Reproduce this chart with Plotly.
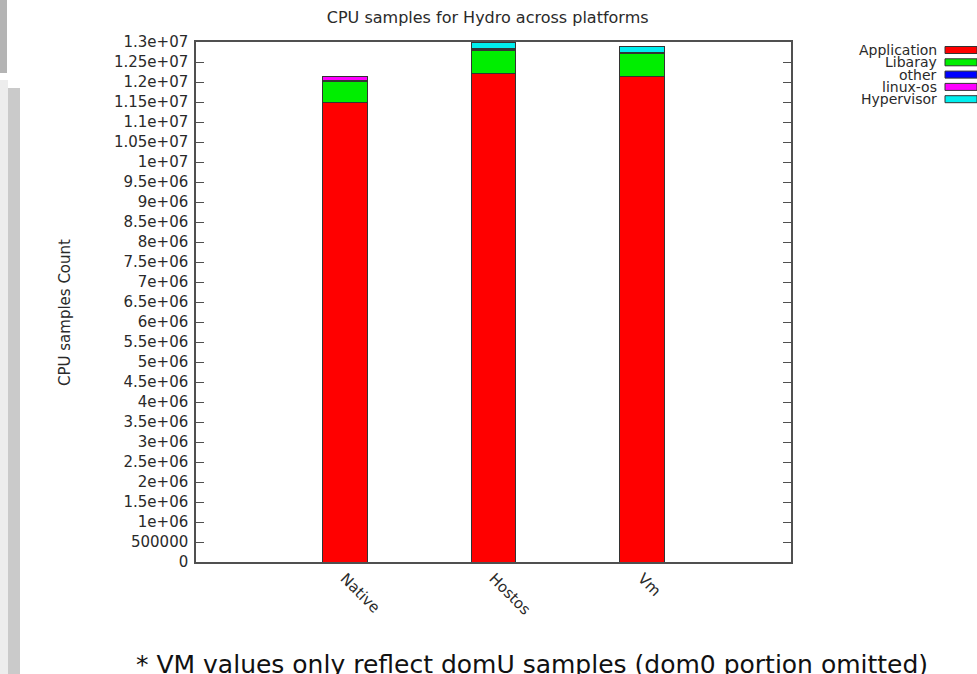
import plotly.graph_objects as go

platforms = ["Native", "Hostos", "Vm"]
series_names = ["Application", "Libaray", "other", "linux-os", "Hypervisor"]
series_colors = ["#ff0000", "#00ee00", "#0000ff", "#ff00ff", "#00eeee"]
application = [11.50e6, 12.22e6, 12.13e6]
library = [0.52e6, 0.56e6, 0.58e6]
other = [0.03e6, 0.03e6, 0.02e6]
linux_os = [0.08e6, 0.03e6, 0.02e6]
hypervisor = [0.0, 0.16e6, 0.13e6]
series_values = [application, library, other, linux_os, hypervisor]

tick_vals = [i * 500000 for i in range(27)]
tick_text = ["0", "500000"] + [
    ("%ge+06" % (v / 1e6)) if v < 1e7 else ("%ge+07" % (v / 1e7)) for v in tick_vals[2:]
]

W, H = 977, 674
L, R, T, B = 196, 186, 42, 112
pw, ph = W - L - R, H - T - B

def px(x):
    return (x - L) / pw

def py(y):
    return (H - B - y) / ph

fig = go.Figure()
for name, color, vals in zip(series_names, series_colors, series_values):
    fig.add_trace(go.Bar(
        x=platforms, y=vals, name=name, width=0.3,
        marker=dict(color=color, line=dict(color="#333333", width=1)),
        showlegend=False,
    ))

font = "DejaVu Sans, sans-serif"
txt = "#2a2a2a"
annotations = []
shapes = []
for i, (name, color) in enumerate(zip(series_names, series_colors)):
    yc = 50 + i * 12.3
    annotations.append(dict(
        x=px(939), y=py(yc), xref="paper", yref="paper", text=name,
        showarrow=False, xanchor="right", yanchor="middle",
        font=dict(family=font, size=14, color=txt),
    ))
    shapes.append(dict(
        type="rect", xref="paper", yref="paper",
        x0=px(945), x1=px(977), y0=py(yc - 3.5), y1=py(yc + 3.5),
        fillcolor=color, line=dict(color="#333333", width=1),
    ))

# slide decorations
shapes.append(dict(type="rect", xref="paper", yref="paper", layer="below",
                   x0=px(0), x1=px(7), y0=py(0), y1=py(73),
                   fillcolor="#b4b4b4", line=dict(width=0)))
shapes.append(dict(type="rect", xref="paper", yref="paper", layer="below",
                   x0=px(0), x1=px(8), y0=py(80), y1=py(674),
                   fillcolor="#ededed", line=dict(width=0)))
shapes.append(dict(type="rect", xref="paper", yref="paper", layer="below",
                   x0=px(8), x1=px(20), y0=py(88), y1=py(674),
                   fillcolor="#cacaca", line=dict(width=0)))

annotations.append(dict(
    x=px(65), y=py(313), xref="paper", yref="paper", text="CPU samples Count",
    showarrow=False, textangle=-90, xanchor="center", yanchor="middle",
    font=dict(family=font, size=15, color=txt),
))
annotations.append(dict(
    x=px(134), y=py(664), xref="paper", yref="paper",
    text="* VM values only reflect domU samples (dom0 portion omitted)",
    showarrow=False, xanchor="left", yanchor="middle",
    font=dict(family=font, size=25, color="#111111"),
))

fig.update_layout(
    width=W, height=H,
    margin=dict(l=L, r=R, t=T, b=B, autoexpand=False),
    barmode="stack",
    paper_bgcolor="white", plot_bgcolor="white",
    title=dict(text="CPU samples for Hydro across platforms", x=px(493), xanchor="center",
               y=1 - 17 / H, yanchor="middle",
               font=dict(family=font, size=16, color=txt)),
    xaxis=dict(range=[-1, 3], tickangle=45, showline=True, linecolor="#505050",
               linewidth=1.5, mirror=True, ticks="", showgrid=False,
               tickfont=dict(family=font, size=15, color=txt)),
    yaxis=dict(range=[0, 1.3e7], tickvals=tick_vals, ticktext=tick_text,
               ticks="inside", ticklen=8, tickcolor="#505050", showline=True,
               linecolor="#505050", linewidth=1.5, mirror="allticks", showgrid=False,
               zeroline=False, ticklabelstandoff=3,
               tickfont=dict(family=font, size=15, color=txt)),
    annotations=annotations,
    shapes=shapes,
)

fig.write_html("out.html", config={"displayModeBar": False},
               post_script="document.body.style.margin='0';document.body.style.overflow='hidden';")
